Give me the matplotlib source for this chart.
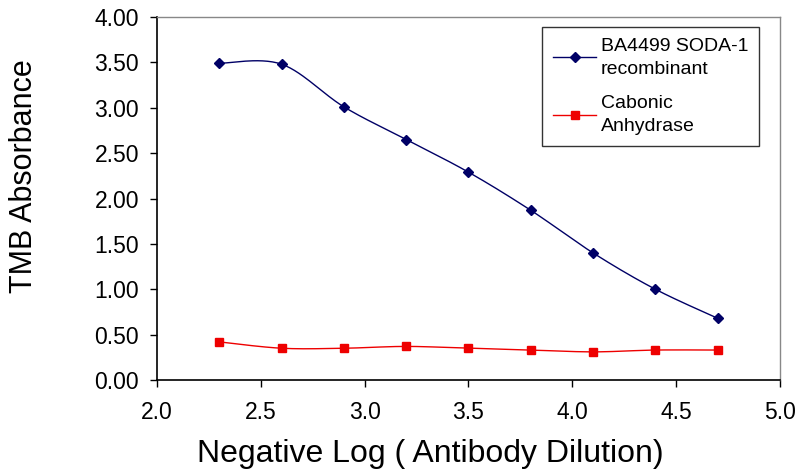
import numpy as np
import matplotlib
matplotlib.use("Agg")
import matplotlib.pyplot as plt

plt.rcParams['font.family'] = ['Liberation Sans', 'DejaVu Sans']

x_vals = [2.3, 2.6, 2.9, 3.2, 3.5, 3.8, 4.1, 4.4, 4.7]
soda1 = [3.49, 3.48, 3.01, 2.65, 2.29, 1.87, 1.40, 1.00, 0.68]
carbonic = [0.42, 0.35, 0.35, 0.37, 0.35, 0.33, 0.31, 0.33, 0.33]
labels = ["BA4499 SODA-1\nrecombinant", "Cabonic\nAnhydrase"]
x_ticks = [2.0, 2.5, 3.0, 3.5, 4.0, 4.5, 5.0]
y_ticks = [0.0, 0.5, 1.0, 1.5, 2.0, 2.5, 3.0, 3.5, 4.0]


def smooth(xs, ys, n=30):
    # Catmull-Rom rendering of the connecting line (like Excel smoothed lines)
    p = np.column_stack([xs, ys]).astype(float)
    p = np.vstack([p[0], p, p[-1]])
    out = []
    for i in range(1, len(p) - 2):
        p0, p1, p2, p3 = p[i - 1], p[i], p[i + 1], p[i + 2]
        t = np.linspace(0, 1, n)[:, None]
        seg = 0.5 * ((2 * p1) + (-p0 + p2) * t + (2 * p0 - 5 * p1 + 4 * p2 - p3) * t ** 2
                     + (-p0 + 3 * p1 - 3 * p2 + p3) * t ** 3)
        out.append(seg)
    c = np.vstack(out)
    return c[:, 0], c[:, 1]


fig = plt.figure(figsize=(7.98, 4.76), dpi=100)
ax = fig.add_axes([157 / 798, 1 - 380 / 476, (780 - 157) / 798, (380 - 17) / 476])

navy = "#000066"
red = "#ee0000"
sx, sy = smooth(x_vals, soda1)
ax.plot(sx, sy, color=navy, lw=1.0)
ax.plot(x_vals, soda1, ls='none', marker='D', color=navy, ms=5.5)
cx, cy = smooth(x_vals, carbonic)
ax.plot(cx, cy, color=red, lw=1.0)
ax.plot(x_vals, carbonic, ls='none', marker='s', color=red, ms=5.5)

h1, = ax.plot([], [], color=navy, lw=1.0, marker='D', ms=5.5)
h2, = ax.plot([], [], color=red, lw=1.0, marker='s', ms=5.5)
leg = ax.legend([h1, h2], labels, loc='upper right', bbox_to_anchor=(759 / 798, 1 - 27 / 476),
                bbox_transform=fig.transFigure, fontsize=14, frameon=True, fancybox=False,
                edgecolor='black', handlelength=2.2, handletextpad=0.25, borderpad=0.55,
                labelspacing=0.9, borderaxespad=0)
for t in leg.get_texts():
    t.set_linespacing(1.45)
leg.get_frame().set_linewidth(1.0)

ax.set_xlim(2.0, 5.0)
ax.set_ylim(0.0, 4.0)
ax.set_xticks(x_ticks)
ax.set_xticklabels([f"{v:.1f}" for v in x_ticks])
ax.set_yticks(y_ticks)
ax.set_yticklabels([f"{v:.2f}" for v in y_ticks])
ax.tick_params(direction='out', length=5, width=1, labelsize=16.5, colors='black')
ax.tick_params(axis='y', pad=8)
ax.tick_params(axis='x', pad=10)
for s in ['left', 'bottom']:
    ax.spines[s].set_color('black')
    ax.spines[s].set_linewidth(1.2)
for s in ['top', 'right']:
    ax.spines[s].set_color('#888888')
    ax.spines[s].set_linewidth(1.0)

fig.text(24 / 798, 1 - 176 / 476, "TMB Absorbance", rotation=90, ha='center', va='center', fontsize=22)
fig.text(430 / 798, 1 - 462 / 476, "Negative Log ( Antibody Dilution)", ha='center', va='baseline', fontsize=23)

fig.savefig("out.png", dpi=100)
